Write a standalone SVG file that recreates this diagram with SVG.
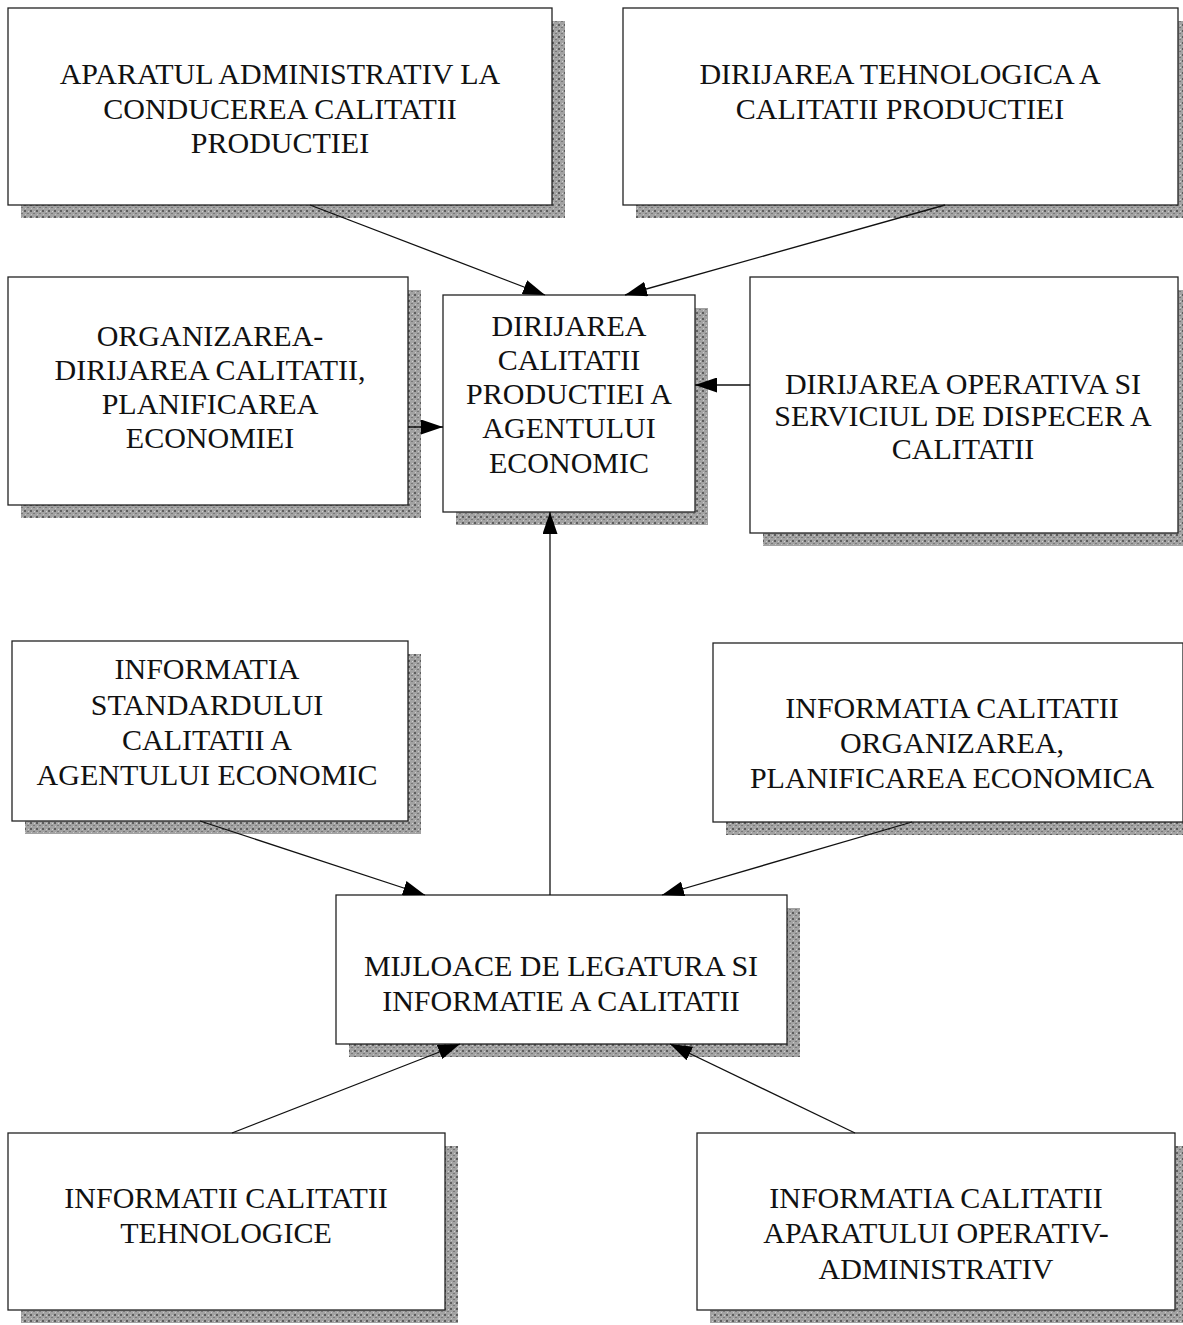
<svg xmlns="http://www.w3.org/2000/svg" width="1183" height="1325" viewBox="0 0 1183 1325">
<defs>
<style>
.shadow{fill:url(#dots)}
.box{fill:#ffffff;stroke:#222;stroke-width:1.3}
.t{font-family:"Liberation Serif","Times New Roman",serif;font-size:30px;fill:#111;text-anchor:middle}
.c{stroke:#111;stroke-width:1.3;fill:none}
</style>
<pattern id="dots" width="6" height="6" patternUnits="userSpaceOnUse">
<rect width="6" height="6" fill="#a2a2a2"/>
<rect x="0" y="0" width="2" height="2" fill="#5e5e5e"/>
<rect x="3" y="3" width="2" height="1" fill="#787878"/>
<rect x="4" y="1" width="1" height="1" fill="#d0d0d0"/>
<rect x="1" y="4" width="1" height="1" fill="#c8c8c8"/>
</pattern>
<marker id="ah" viewBox="0 0 22 15" refX="22" refY="7.5" markerWidth="22" markerHeight="15" markerUnits="userSpaceOnUse" orient="auto">
<path d="M0,0 L22,7.5 L0,15 z" fill="#000"/>
</marker>
</defs>
<rect width="1183" height="1325" fill="#fff"/>

<g id="n1">
<rect class="shadow" x="21" y="21" width="544" height="197"/>
<rect class="box" x="8" y="8" width="544" height="197"/>
<text class="t" x="280" y="84">APARATUL ADMINISTRATIV LA</text>
<text class="t" x="280" y="119">CONDUCEREA CALITATII</text>
<text class="t" x="280" y="153">PRODUCTIEI</text>
</g>

<g id="n2">
<rect class="shadow" x="636" y="21" width="555" height="197"/>
<rect class="box" x="623" y="8" width="555" height="197"/>
<text class="t" x="900" y="84">DIRIJAREA TEHNOLOGICA A</text>
<text class="t" x="900" y="119">CALITATII PRODUCTIEI</text>
</g>

<g id="n3">
<rect class="shadow" x="21" y="290" width="400" height="228"/>
<rect class="box" x="8" y="277" width="400" height="228"/>
<text class="t" x="210" y="346">ORGANIZAREA-</text>
<text class="t" x="210" y="380">DIRIJAREA CALITATII,</text>
<text class="t" x="210" y="414">PLANIFICAREA</text>
<text class="t" x="210" y="448">ECONOMIEI</text>
</g>

<g id="n4">
<rect class="shadow" x="456" y="308" width="252" height="217"/>
<rect class="box" x="443" y="295" width="252" height="217"/>
<text class="t" x="569" y="336">DIRIJAREA</text>
<text class="t" x="569" y="370">CALITATII</text>
<text class="t" x="569" y="404">PRODUCTIEI A</text>
<text class="t" x="569" y="438">AGENTULUI</text>
<text class="t" x="569" y="473">ECONOMIC</text>
</g>

<g id="n5">
<rect class="shadow" x="763" y="290" width="428" height="256"/>
<rect class="box" x="750" y="277" width="428" height="256"/>
<text class="t" x="963" y="394">DIRIJAREA OPERATIVA SI</text>
<text class="t" x="963" y="426">SERVICIUL DE DISPECER A</text>
<text class="t" x="963" y="459">CALITATII</text>
</g>

<g id="n6">
<rect class="shadow" x="25" y="654" width="396" height="180"/>
<rect class="box" x="12" y="641" width="396" height="180"/>
<text class="t" x="207" y="679">INFORMATIA</text>
<text class="t" x="207" y="715">STANDARDULUI</text>
<text class="t" x="207" y="750">CALITATII A</text>
<text class="t" x="207" y="785">AGENTULUI ECONOMIC</text>
</g>

<g id="n7">
<rect class="shadow" x="726" y="656" width="470" height="179"/>
<rect class="box" x="713" y="643" width="470" height="179"/>
<text class="t" x="952" y="718">INFORMATIA CALITATII</text>
<text class="t" x="952" y="753">ORGANIZAREA,</text>
<text class="t" x="952" y="788">PLANIFICAREA ECONOMICA</text>
</g>

<g id="n8">
<rect class="shadow" x="349" y="908" width="451" height="149"/>
<rect class="box" x="336" y="895" width="451" height="149"/>
<text class="t" x="561" y="976">MIJLOACE DE LEGATURA SI</text>
<text class="t" x="561" y="1011">INFORMATIE A CALITATII</text>
</g>

<g id="n9">
<rect class="shadow" x="21" y="1146" width="437" height="177"/>
<rect class="box" x="8" y="1133" width="437" height="177"/>
<text class="t" x="226" y="1208">INFORMATII CALITATII</text>
<text class="t" x="226" y="1243">TEHNOLOGICE</text>
</g>

<g id="n10">
<rect class="shadow" x="710" y="1146" width="478" height="177"/>
<rect class="box" x="697" y="1133" width="478" height="177"/>
<text class="t" x="936" y="1208">INFORMATIA CALITATII</text>
<text class="t" x="936" y="1243">APARATULUI OPERATIV-</text>
<text class="t" x="936" y="1279">ADMINISTRATIV</text>
</g>

<g id="connectors">
<line class="c" x1="310" y1="205" x2="545" y2="295" marker-end="url(#ah)"/>
<line class="c" x1="945" y1="205" x2="625" y2="295" marker-end="url(#ah)"/>
<line class="c" x1="408" y1="427" x2="443" y2="427" marker-end="url(#ah)"/>
<line class="c" x1="750" y1="385" x2="695" y2="385" marker-end="url(#ah)"/>
<line class="c" x1="550" y1="895" x2="550" y2="512" marker-end="url(#ah)"/>
<line class="c" x1="200" y1="821" x2="425" y2="895" marker-end="url(#ah)"/>
<line class="c" x1="912" y1="822" x2="662" y2="895" marker-end="url(#ah)"/>
<line class="c" x1="232" y1="1133" x2="460" y2="1044" marker-end="url(#ah)"/>
<line class="c" x1="855" y1="1133" x2="670" y2="1044" marker-end="url(#ah)"/>
</g>
</svg>
